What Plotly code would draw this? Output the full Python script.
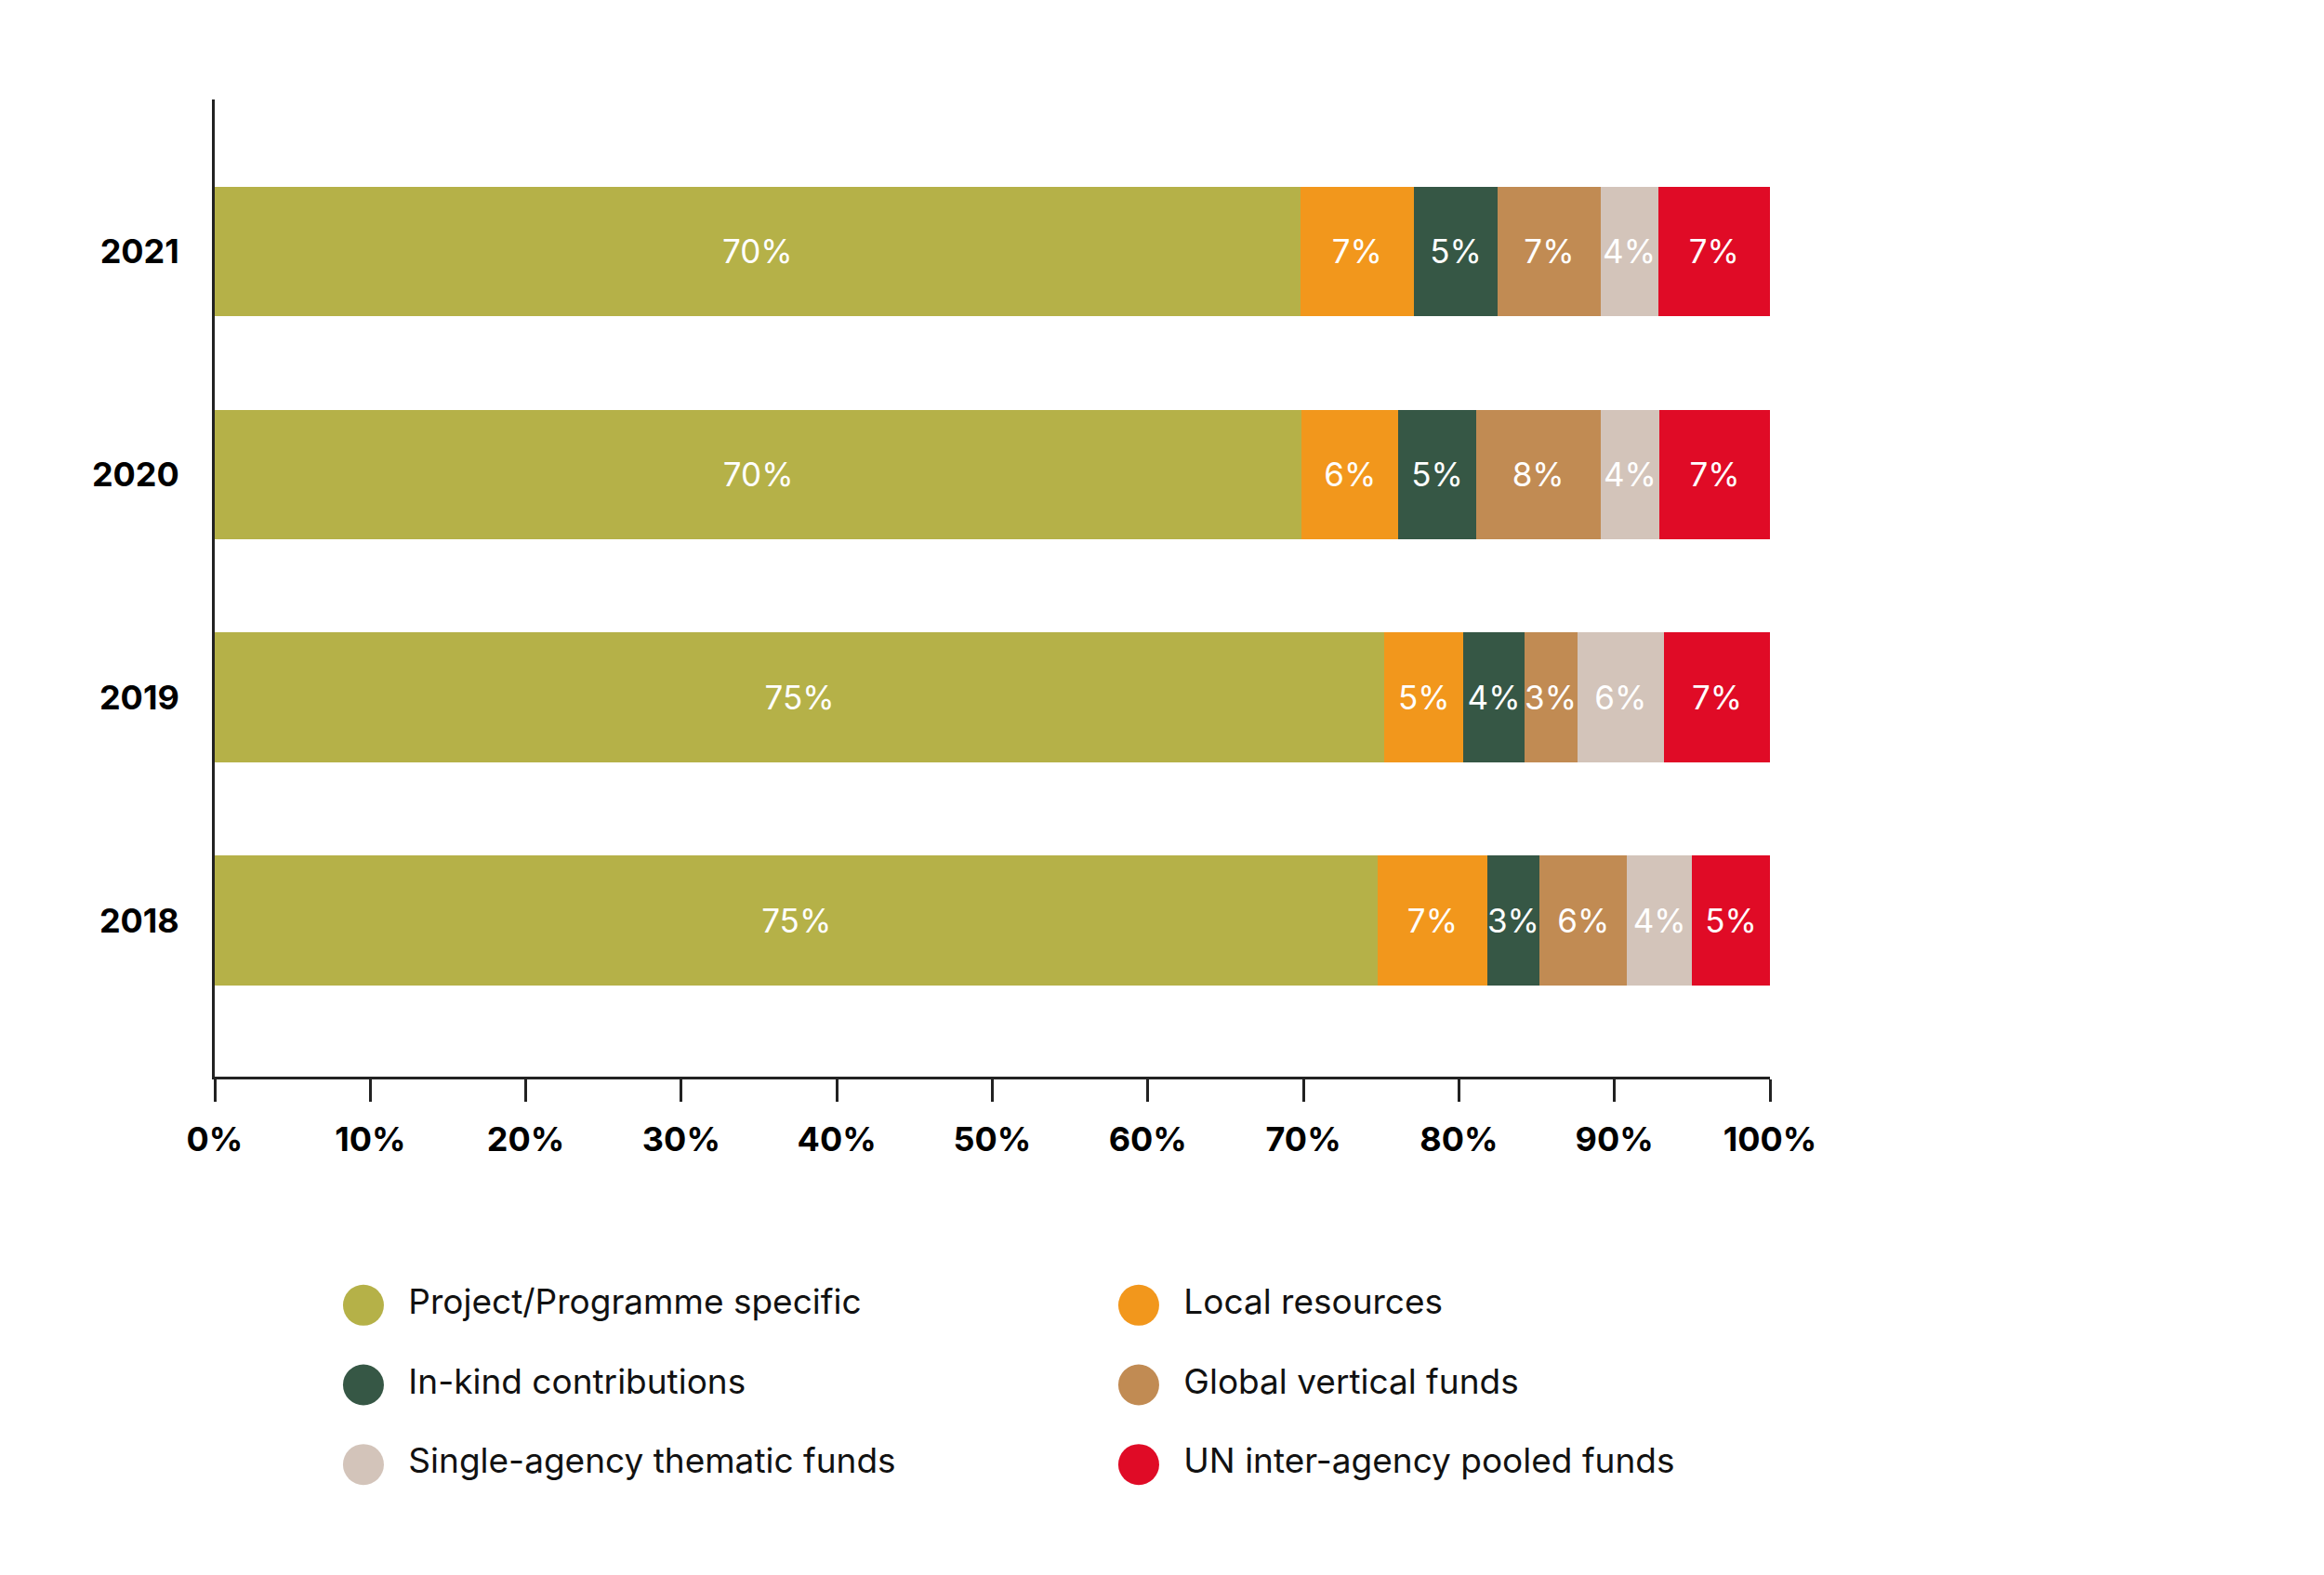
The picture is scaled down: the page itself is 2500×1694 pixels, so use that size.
#!/usr/bin/env python3
"""Share of resources by funding type, 2018-2021, as 100% stacked horizontal bars.

Values are read off the published chart (percent of each year's total).
Output: out.html via plotly.
"""
import plotly.graph_objects as go

# ---- data -------------------------------------------------------------
years = ["2018", "2019", "2020", "2021"]

project_specific = [74.8, 75.2, 69.9, 69.8]
local_resources = [7.0, 5.1, 6.2, 7.3]
in_kind = [3.4, 3.9, 5.0, 5.4]
global_vertical = [5.6, 3.4, 8.0, 6.6]
single_agency = [4.2, 5.6, 3.8, 3.7]
un_pooled = [5.0, 6.8, 7.1, 7.2]

series_names = [
    "Project/Programme specific",
    "Local resources",
    "In-kind contributions",
    "Global vertical funds",
    "Single-agency thematic funds",
    "UN inter-agency pooled funds",
]
series_values = [project_specific, local_resources, in_kind,
                 global_vertical, single_agency, un_pooled]

x_ticks = [0, 10, 20, 30, 40, 50, 60, 70, 80, 90, 100]

# ---- styling ----------------------------------------------------------
colors = ["#B5B148", "#F2971C", "#365745", "#C18B53", "#D3C4BA", "#E00B26"]
FONT = "Inter, Roboto, Arial, sans-serif"
W, H = 2500, 1694


def main():
    fig = go.Figure()

    for name, vals, col in zip(series_names, series_values, colors):
        fig.add_trace(go.Bar(
            y=years, x=vals, name=name, orientation="h",
            marker={"color": col, "line": {"width": 0}},
            text=vals, texttemplate="%{x:.0f}%",
            textposition="inside", insidetextanchor="middle",
            textfont={"family": FONT, "size": 35, "color": "white"},
            textangle=0, showlegend=False,
            hovertemplate=name + "<br>%{y}: %{x:.1f}%<extra></extra>",
        ))

    # legend drawn on its own hidden axes so the dots can be large
    cols = [i % 2 for i in range(len(series_names))]
    rows = [i // 2 for i in range(len(series_names))]
    fig.add_trace(go.Scatter(
        x=cols, y=rows, xaxis="x2", yaxis="y2", mode="markers",
        marker={"size": 44, "color": colors, "line": {"width": 0}},
        hoverinfo="skip", showlegend=False,
    ))
    fig.add_trace(go.Scatter(
        x=[c + 0.058 for c in cols], y=rows, xaxis="x2", yaxis="y2",
        mode="text", text=series_names, textposition="middle right",
        textfont={"family": FONT, "size": 37, "color": "#111"},
        hoverinfo="skip", showlegend=False,
    ))

    fig.update_layout(
        barmode="stack",
        bargap=0.42,
        width=W, height=H,
        margin={"l": 223, "r": 604, "t": 0, "b": 0, "autoexpand": False},
        paper_bgcolor="white", plot_bgcolor="white",
        font={"family": FONT, "color": "#111"},
        uniformtext={"minsize": 35, "mode": "show"},
        xaxis={
            "domain": [0, 1], "range": [0, 100],
            "tickvals": x_ticks, "ticktext": [f"{t}%" for t in x_ticks],
            "showgrid": False, "zeroline": False,
            "showline": True, "linecolor": "#222", "linewidth": 3,
            "ticks": "outside", "ticklen": 24, "tickwidth": 3, "tickcolor": "#222",
            "ticklabelstandoff": 10,
            "tickfont": {"family": FONT, "size": 36, "color": "black", "weight": "bold"},
            "automargin": False, "fixedrange": True,
        },
        yaxis={
            "domain": [1 - 1150 / H, 1 - 99 / H],
            "type": "category", "categoryorder": "array", "categoryarray": years,
            "range": [-0.70, 3.68],
            "showgrid": False, "zeroline": False,
            "showline": True, "linecolor": "#222", "linewidth": 3,
            "ticks": "", "ticklabelstandoff": 28,
            "tickfont": {"family": FONT, "size": 36, "color": "black", "weight": "bold"},
            "automargin": False, "fixedrange": True,
        },
        xaxis2={
            "domain": [0, 1], "anchor": "y2", "range": [-0.1918, 1.8142],
            "visible": False, "fixedrange": True,
        },
        yaxis2={
            "domain": [1 - 1610 / H, 1 - 1353 / H], "anchor": "x2",
            "range": [2.5, -0.5], "visible": False, "fixedrange": True,
        },
    )

    fig.write_html("out.html")


if __name__ == "__main__":
    main()
